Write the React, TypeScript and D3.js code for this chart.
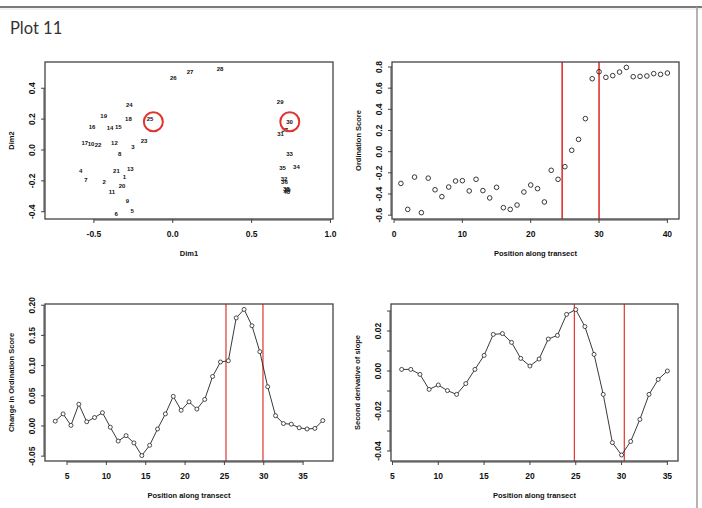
import React from "react";
import * as d3 from "d3";

// ordination plot labels (Dim1, Dim2)
const sites = [
  { id: "1", d1: -0.307, d2: -0.176 },
  { id: "2", d1: -0.435, d2: -0.205 },
  { id: "3", d1: -0.252, d2: 0.019 },
  { id: "4", d1: -0.584, d2: -0.138 },
  { id: "5", d1: -0.258, d2: -0.393 },
  { id: "6", d1: -0.359, d2: -0.412 },
  { id: "7", d1: -0.550, d2: -0.194 },
  { id: "8", d1: -0.336, d2: -0.024 },
  { id: "9", d1: -0.288, d2: -0.330 },
  { id: "10", d1: -0.518, d2: 0.038 },
  { id: "11", d1: -0.385, d2: -0.272 },
  { id: "12", d1: -0.370, d2: 0.045 },
  { id: "13", d1: -0.269, d2: -0.123 },
  { id: "14", d1: -0.397, d2: 0.142 },
  { id: "15", d1: -0.345, d2: 0.147 },
  { id: "16", d1: -0.512, d2: 0.151 },
  { id: "17", d1: -0.558, d2: 0.047 },
  { id: "18", d1: -0.281, d2: 0.203 },
  { id: "19", d1: -0.438, d2: 0.220 },
  { id: "20", d1: -0.321, d2: -0.233 },
  { id: "21", d1: -0.357, d2: -0.138 },
  { id: "22", d1: -0.474, d2: 0.030 },
  { id: "23", d1: -0.182, d2: 0.058 },
  { id: "24", d1: -0.275, d2: 0.293 },
  { id: "25", d1: -0.144, d2: 0.201 },
  { id: "26", d1: 0.004, d2: 0.468 },
  { id: "27", d1: 0.110, d2: 0.505 },
  { id: "28", d1: 0.300, d2: 0.526 },
  { id: "29", d1: 0.681, d2: 0.311 },
  { id: "30", d1: 0.740, d2: 0.184 },
  { id: "37", d1: 0.710, d2: 0.128 },
  { id: "31", d1: 0.683, d2: 0.101 },
  { id: "33", d1: 0.740, d2: -0.028 },
  { id: "35", d1: 0.696, d2: -0.119 },
  { id: "34", d1: 0.784, d2: -0.112 },
  { id: "32", d1: 0.706, d2: -0.188 },
  { id: "36", d1: 0.708, d2: -0.207 },
  { id: "38", d1: 0.720, d2: -0.254 },
  { id: "39", d1: 0.726, d2: -0.262 },
  { id: "40", d1: 0.723, d2: -0.269 },
];
const circled = [
  { d1: -0.123, d2: 0.183 },
  { d1: 0.742, d2: 0.183 },
];

// ordination score along transect
const scorePos = d3.range(1, 41);
const scoreVals = [
  -0.3, -0.545, -0.24, -0.576, -0.25, -0.36, -0.425, -0.334, -0.277, -0.274,
  -0.371, -0.261, -0.368, -0.437, -0.337, -0.529, -0.545, -0.504, -0.381, -0.315,
  -0.349, -0.475, -0.176, -0.261, -0.142, 0.013, 0.116, 0.312, 0.689, 0.755,
  0.702, 0.718, 0.752, 0.796, 0.708, 0.711, 0.715, 0.737, 0.73, 0.743,
];
const scoreBreaks = [24.6, 30.0];

// change in ordination score
const changePos = d3.range(3.5, 38, 1);
const changeVals = [
  0.008, 0.02, 0.001, 0.036, 0.007, 0.014, 0.022, -0.002, -0.025, -0.016,
  -0.028, -0.049, -0.032, -0.005, 0.02, 0.049, 0.026, 0.04, 0.028, 0.044,
  0.082, 0.106, 0.108, 0.179, 0.193, 0.166, 0.123, 0.065, 0.017, 0.004,
  0.003, -0.003, -0.005, -0.004, 0.009,
];
const changeBreaks = [25.2, 29.9];

// second derivative of slope
const derivPos = d3.range(6, 36);
const derivVals = [
  0.0008, 0.0008, -0.0017, -0.0092, -0.007, -0.0098, -0.0117, -0.0063, 0.0008, 0.0078,
  0.0183, 0.0187, 0.0143, 0.0063, 0.0025, 0.006, 0.016, 0.0178, 0.0283, 0.0307,
  0.0222, 0.0083, -0.0117, -0.0358, -0.042, -0.0352, -0.0242, -0.0117, -0.0042, 0.0,
];
const derivBreaks = [24.85, 30.3];

const FONT = "'Liberation Sans', Arial, sans-serif";
const RED = "#e0342e";

interface Box {
  left: number;
  top: number;
  right: number;
  bottom: number;
}

interface PanelProps {
  box: Box;
  xDomain: [number, number];
  yDomain: [number, number];
  xTicks: number[];
  yTicks: number[];
  yLabels: number[];
  xFmt: (v: number) => string;
  yFmt: (v: number) => string;
  xTitle: string;
  yTitle: string;
  children: (x: d3.ScaleLinear<number, number>, y: d3.ScaleLinear<number, number>) => React.ReactNode;
}

const Panel = ({ box, xDomain, yDomain, xTicks, yTicks, yLabels, xFmt, yFmt, xTitle, yTitle, children }: PanelProps) => {
  const x = d3.scaleLinear().domain(xDomain).range([box.left, box.right]);
  const y = d3.scaleLinear().domain(yDomain).range([box.bottom, box.top]);
  const cx = (box.left + box.right) / 2;
  const cy = (box.top + box.bottom) / 2;
  return (
    <g>
      <defs>
        <clipPath id={`clip-${box.left}-${box.top}`}>
          <rect x={box.left} y={box.top} width={box.right - box.left} height={box.bottom - box.top} />
        </clipPath>
      </defs>
      <g clipPath={`url(#clip-${box.left}-${box.top})`}>{children(x, y)}</g>
      <rect
        x={box.left}
        y={box.top}
        width={box.right - box.left}
        height={box.bottom - box.top}
        fill="none"
        stroke="#444"
        strokeWidth={1.3}
      />
      {/* x axis */}
      <line x1={x(xTicks[0])} x2={x(xTicks[xTicks.length - 1])} y1={box.bottom + 1} y2={box.bottom + 1} stroke="#444" />
      {xTicks.map((t) => (
        <g key={`x${t}`}>
          <line x1={x(t)} x2={x(t)} y1={box.bottom} y2={box.bottom + 4} stroke="#444" />
          <text x={x(t)} y={box.bottom + 18} textAnchor="middle" fontSize={8.5} fontWeight="bold" fontFamily={FONT} fill="#111">
            {xFmt(t)}
          </text>
        </g>
      ))}
      {/* y axis */}
      <line x1={box.left - 1} x2={box.left - 1} y1={y(yTicks[0])} y2={y(yTicks[yTicks.length - 1])} stroke="#444" />
      {yTicks.map((t) => (
        <line key={`yt${t}`} x1={box.left - 4} x2={box.left} y1={y(t)} y2={y(t)} stroke="#444" />
      ))}
      {yLabels.map((t) => (
        <text
          key={`yl${t}`}
          transform={`translate(${box.left - 10},${y(t)}) rotate(-90)`}
          textAnchor="middle"
          fontSize={8.5}
          fontWeight="bold"
          fontFamily={FONT}
          fill="#111"
        >
          {yFmt(t)}
        </text>
      ))}
      <text x={cx} y={box.bottom + 37} textAnchor="middle" fontSize={7.5} fontWeight="bold" fontFamily={FONT} fill="#111">
        {xTitle}
      </text>
      <text
        transform={`translate(${box.left - 31},${cy}) rotate(-90)`}
        textAnchor="middle"
        fontSize={7.5}
        fontWeight="bold"
        fontFamily={FONT}
        fill="#111"
      >
        {yTitle}
      </text>
    </g>
  );
};

const App = () => {
  const f1 = d3.format(".1f");
  const f2 = d3.format(".2f");
  const fi = d3.format("d");
  const lineGen = (x: d3.ScaleLinear<number, number>, y: d3.ScaleLinear<number, number>, xs: number[], ys: number[]) =>
    d3
      .line<number>()
      .x((_, i) => x(xs[i]))
      .y((v) => y(v))(ys) || "";

  const minus = (s: string) => s.replace("−", "-");

  return (
    <div style={{ position: "absolute", left: 0, top: 0 }}>
      <svg width={702} height={508} style={{ display: "block", background: "#fff" }}>
        <line x1={0} x2={702} y1={7} y2={7} stroke="#7a7a7a" strokeWidth={2} />
        <line x1={0} x2={702} y1={9} y2={9} stroke="#e2e2e2" strokeWidth={1} />
        <line x1={697} x2={697} y1={7} y2={508} stroke="#9a9a9a" strokeWidth={1.5} />
        <text x={10} y={34} fontSize={16.5} fontFamily="Lato, 'Open Sans', sans-serif" fill="#333">
          Plot 11
        </text>

        {/* top-left: ordination */}
        <Panel
          box={{ left: 45, top: 62, right: 333, bottom: 219 }}
          xDomain={[-0.81, 1.016]}
          yDomain={[-0.447, 0.57]}
          xTicks={[-0.5, 0, 0.5, 1.0]}
          yTicks={[-0.4, -0.2, 0, 0.2, 0.4]}
          yLabels={[-0.4, -0.2, 0, 0.2, 0.4]}
          xFmt={(v) => minus(f1(v))}
          yFmt={(v) => minus(f1(v))}
          xTitle="Dim1"
          yTitle="Dim2"
        >
          {(x, y) => (
            <g>
              {sites.map((s) => (
                <text
                  key={s.id}
                  x={x(s.d1)}
                  y={y(s.d2) + 2}
                  textAnchor="middle"
                  fontSize={6}
                  fontWeight="bold"
                  fontFamily={FONT}
                  fill="#111"
                >
                  {s.id}
                </text>
              ))}
              {circled.map((c, i) => (
                <ellipse key={i} cx={x(c.d1)} cy={y(c.d2)} rx={9.5} ry={9.5} fill="none" stroke={RED} strokeWidth={2} />
              ))}
            </g>
          )}
        </Panel>

        {/* top-right: ordination score */}
        <Panel
          box={{ left: 392, top: 62, right: 679, bottom: 219 }}
          xDomain={[-0.3, 41.7]}
          yDomain={[-0.636, 0.847]}
          xTicks={[0, 10, 20, 30, 40]}
          yTicks={[-0.6, -0.4, -0.2, 0, 0.2, 0.4, 0.6, 0.8]}
          yLabels={[-0.6, -0.4, -0.2, 0, 0.2, 0.4, 0.6, 0.8]}
          xFmt={(v) => fi(v)}
          yFmt={(v) => minus(f1(v))}
          xTitle="Position along transect"
          yTitle="Ordination Score"
        >
          {(x, y) => (
            <g>
              {scoreBreaks.map((b) => (
                <line key={b} x1={x(b)} x2={x(b)} y1={62} y2={219} stroke={RED} strokeWidth={1.6} />
              ))}
              {scoreVals.map((v, i) => (
                <circle key={i} cx={x(scorePos[i])} cy={y(v)} r={2.3} fill="none" stroke="#222" strokeWidth={0.9} />
              ))}
            </g>
          )}
        </Panel>

        {/* bottom-left: change in ordination score */}
        <Panel
          box={{ left: 45, top: 304, right: 333, bottom: 461 }}
          xDomain={[2.2, 38.8]}
          yDomain={[-0.058, 0.202]}
          xTicks={[5, 10, 15, 20, 25, 30, 35]}
          yTicks={[-0.05, 0, 0.05, 0.1, 0.15, 0.2]}
          yLabels={[-0.05, 0, 0.05, 0.1, 0.15, 0.2]}
          xFmt={(v) => fi(v)}
          yFmt={(v) => minus(f2(v))}
          xTitle="Position along transect"
          yTitle="Change in Ordination Score"
        >
          {(x, y) => (
            <g>
              {changeBreaks.map((b) => (
                <line key={b} x1={x(b)} x2={x(b)} y1={304} y2={461} stroke={RED} strokeWidth={1.2} />
              ))}
              <path d={lineGen(x, y, changePos, changeVals)} fill="none" stroke="#222" strokeWidth={0.9} />
              {changeVals.map((v, i) => (
                <circle key={i} cx={x(changePos[i])} cy={y(v)} r={2} fill="#fff" stroke="#222" strokeWidth={0.8} />
              ))}
            </g>
          )}
        </Panel>

        {/* bottom-right: second derivative */}
        <Panel
          box={{ left: 391, top: 304, right: 678, bottom: 461 }}
          xDomain={[4.84, 36.16]}
          yDomain={[-0.045, 0.0335]}
          xTicks={[5, 10, 15, 20, 25, 30, 35]}
          yTicks={[-0.04, -0.03, -0.02, -0.01, 0, 0.01, 0.02, 0.03]}
          yLabels={[-0.04, -0.02, 0, 0.02]}
          xFmt={(v) => fi(v)}
          yFmt={(v) => minus(f2(v))}
          xTitle="Position along transect"
          yTitle="Second derivative of slope"
        >
          {(x, y) => (
            <g>
              {derivBreaks.map((b) => (
                <line key={b} x1={x(b)} x2={x(b)} y1={304} y2={461} stroke={RED} strokeWidth={1.2} />
              ))}
              <path d={lineGen(x, y, derivPos, derivVals)} fill="none" stroke="#222" strokeWidth={0.9} />
              {derivVals.map((v, i) => (
                <circle key={i} cx={x(derivPos[i])} cy={y(v)} r={2} fill="#fff" stroke="#222" strokeWidth={0.8} />
              ))}
            </g>
          )}
        </Panel>
      </svg>
    </div>
  );
};

export default App;
